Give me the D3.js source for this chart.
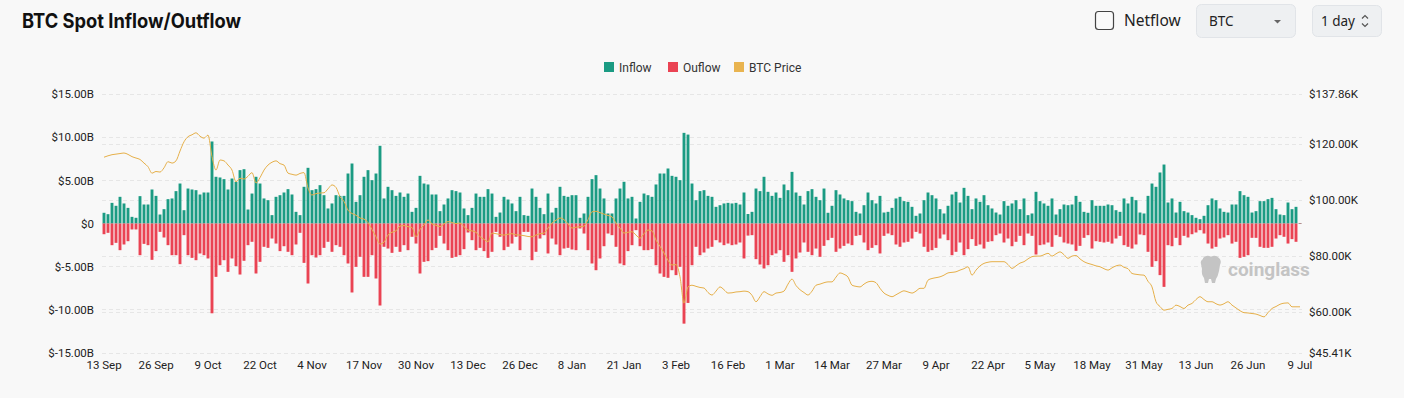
<!DOCTYPE html>
<html><head><meta charset="utf-8">
<script src="https://cdn.jsdelivr.net/npm/d3@7"></script>
<style>
html,body{margin:0;padding:0;background:#f8f8f8;}
svg{display:block;font-family:Roboto,"Noto Sans",sans-serif;}
</style></head><body>
<svg id="chart" width="1404" height="398"></svg>
<script>
// Daily values in billions USD (13 Sep -> 9 Jul)
const inflow = [
1.24,1.08,2.39,2.05,3.09,2.32,1.81,0.77,0.66,3.17,
2.20,2.20,3.94,3.20,1.04,1.66,2.82,2.90,3.75,4.63,
1.54,4.05,3.94,3.86,3.36,3.59,3.59,9.50,5.41,5.33,
5.14,3.94,5.21,4.83,6.18,6.29,1.62,3.47,5.41,4.63,
2.90,2.70,0.97,3.09,3.28,3.59,3.98,3.36,1.35,0.97,
4.25,6.45,3.86,3.98,4.44,3.28,1.74,2.32,3.28,3.20,
3.20,5.79,6.95,2.51,3.28,5.41,6.18,5.02,5.79,9.00,
2.90,4.25,3.86,3.20,3.59,3.09,3.47,1.35,1.81,5.52,
4.63,4.52,3.36,3.36,1.43,2.20,2.90,3.86,3.75,3.59,
1.74,0.97,1.81,3.47,3.09,3.09,3.98,3.47,0.77,1.27,
3.09,2.78,2.32,1.43,3.09,0.97,0.89,4.05,3.09,1.81,
1.08,3.47,1.27,1.81,4.25,3.20,3.09,3.28,3.28,0.66,
1.16,3.09,5.14,5.60,4.05,2.90,1.16,1.16,2.90,4.05,
4.83,2.90,3.09,0.58,2.51,3.47,3.28,3.09,4.52,5.79,
5.79,6.37,5.52,5.41,5.02,10.50,10.30,4.63,2.70,3.75,
3.86,3.20,3.09,1.93,2.12,2.32,2.39,2.32,2.39,2.20,
3.59,1.10,1.35,4.05,3.75,5.41,3.67,3.20,3.59,2.97,
4.52,3.86,5.98,3.59,3.20,2.20,3.75,3.98,3.09,2.70,
4.05,1.24,2.05,3.86,3.36,2.90,2.70,2.59,1.35,1.16,
2.12,3.59,2.70,2.32,3.20,1.27,1.35,1.81,2.90,3.09,
2.59,2.51,1.93,0.89,1.16,2.70,3.59,3.28,2.90,1.66,
1.16,2.05,3.36,3.67,2.43,4.13,3.20,1.66,2.90,2.51,
3.28,2.12,1.74,1.27,1.04,2.59,2.05,2.32,2.70,1.66,
2.90,0.97,1.16,3.67,2.59,2.32,2.05,2.90,1.04,1.66,
2.20,2.12,2.20,3.20,2.51,1.35,1.24,2.70,2.05,2.05,
2.05,2.20,2.12,1.54,1.35,2.90,2.32,3.09,2.70,1.27,
1.16,3.20,4.63,4.25,5.91,6.83,2.43,2.90,1.27,2.51,
1.43,1.27,0.97,0.66,0.50,0.89,2.12,2.90,2.70,1.74,
1.35,1.27,2.20,2.20,3.75,3.28,3.09,1.27,1.43,2.59,
2.59,2.82,2.97,1.66,1.04,0.97,2.43,1.66,1.93,0.05];
const outflow = [
1.24,1.08,2.51,2.24,3.09,2.43,2.05,0.69,0.69,3.67,
2.36,2.51,4.21,3.20,0.97,1.62,2.51,3.67,3.67,4.71,
1.35,3.67,3.98,4.25,3.47,3.67,4.05,10.40,6.18,4.83,
4.25,5.60,4.05,4.94,5.91,4.32,2.51,2.12,5.79,4.44,
2.70,2.82,1.74,2.32,3.20,2.63,3.28,3.67,2.43,1.08,
4.56,6.95,3.67,3.94,3.67,2.82,2.12,3.28,2.51,2.70,
3.67,4.63,7.99,5.02,3.86,6.18,6.18,3.67,6.37,9.50,
2.70,2.90,3.40,2.70,3.28,2.51,3.09,1.54,2.32,5.79,
4.44,4.36,3.09,2.82,1.43,2.32,3.09,3.98,3.86,3.67,
2.97,1.04,1.93,3.09,2.82,3.20,3.98,3.28,0.97,1.54,
3.09,2.70,2.32,1.54,3.09,0.97,0.97,4.25,3.28,1.74,
1.35,3.47,1.74,2.43,3.67,2.90,2.82,3.01,3.09,0.58,
1.16,3.09,4.63,5.41,4.05,2.63,1.16,1.35,2.70,4.63,
4.83,3.20,2.51,0.77,2.63,3.09,3.09,2.97,4.83,5.79,
6.18,6.29,5.41,5.98,5.02,11.60,9.20,4.83,2.70,3.67,
3.36,2.90,2.70,1.93,2.20,2.51,2.32,2.51,2.43,2.20,
4.05,1.40,1.35,4.13,4.75,5.21,4.83,3.67,3.47,3.09,
4.44,3.67,5.60,4.05,3.36,2.20,3.28,3.67,2.90,3.86,
2.59,1.93,1.66,3.28,2.90,2.59,2.32,2.51,1.43,1.35,
2.20,3.09,2.82,2.51,3.47,1.43,1.16,1.35,2.43,2.70,
2.20,2.12,1.74,0.97,1.16,2.70,3.28,3.09,2.82,1.74,
1.27,1.93,3.67,3.28,2.20,3.67,2.97,1.81,2.59,2.43,
2.90,2.12,2.05,1.35,1.16,2.20,1.74,2.63,2.12,1.43,
2.51,1.16,1.43,3.59,2.51,2.43,2.20,2.70,1.35,1.54,
2.20,2.32,2.43,3.17,2.59,1.66,1.35,2.90,2.05,2.12,
2.20,2.12,2.32,1.74,1.43,2.51,2.70,2.90,2.43,1.27,
1.35,3.28,5.02,4.36,5.98,7.34,2.51,2.63,1.66,2.51,
1.43,1.62,1.24,1.04,0.77,1.16,2.32,2.90,2.70,1.74,
1.62,1.35,2.32,2.12,3.98,3.86,3.67,1.66,1.66,2.70,
2.82,2.82,2.70,1.74,1.35,1.54,2.32,1.81,2.12,0.05];
// BTC price in thousands USD
const price = [
115.3,115.8,116.2,116.4,116.6,116.8,116.3,115.5,115.0,114.5,
113.2,111.9,109.6,110.2,110.0,111.5,113.7,113.2,114.0,117.5,
120.8,122.6,123.3,124.0,122.8,122.1,123.2,115.5,110.7,114.3,
114.0,112.5,110.7,106.5,107.8,107.5,108.5,109.8,106.1,108.0,
110.7,112.5,113.5,114.0,113.0,112.5,109.6,109.2,108.9,109.5,
109.8,104.3,101.8,102.3,102.5,102.6,104.0,105.4,104.5,101.2,
99.5,96.4,95.2,94.6,93.6,93.2,92.0,89.5,86.9,84.3,
85.0,87.5,88.5,89.0,90.7,90.9,90.5,90.2,86.9,89.5,
91.1,92.9,91.5,91.0,90.5,91.5,92.3,92.0,91.6,91.8,
90.5,89.3,89.0,88.5,86.9,86.0,85.1,88.2,88.0,87.7,
87.5,87.8,88.0,87.6,87.5,87.3,87.0,86.9,87.5,88.0,
88.2,90.0,91.8,92.8,93.6,93.0,91.5,90.0,90.3,90.5,
90.7,93.0,95.8,96.0,95.5,95.0,94.5,94.0,91.8,90.0,
88.2,88.5,88.7,87.5,86.4,88.0,89.3,89.0,85.7,83.5,
81.1,78.5,76.8,77.0,72.6,63.2,69.0,69.6,69.2,68.8,
68.6,67.0,66.1,67.5,69.0,68.0,66.8,66.9,67.2,67.3,
67.5,67.3,66.0,63.7,65.5,67.3,66.5,66.0,66.8,67.0,
67.5,70.0,71.8,69.5,68.0,67.0,66.1,67.5,69.6,70.0,
70.5,70.8,70.8,72.5,74.0,73.5,72.5,69.6,69.2,69.0,
70.0,70.8,71.0,70.5,68.5,66.8,66.0,65.5,66.2,67.0,
67.6,67.2,66.8,67.5,68.5,68.5,71.4,72.0,72.3,72.6,
73.2,74.0,74.2,74.4,75.0,75.5,76.2,73.2,75.0,76.5,
77.4,77.8,78.0,78.0,78.0,78.0,77.0,75.6,76.5,77.5,
78.0,79.0,79.8,80.0,80.0,80.5,81.0,80.0,80.8,81.5,
80.5,79.2,80.0,80.2,79.0,78.0,77.4,77.0,76.5,76.2,
75.5,75.0,75.8,76.5,76.8,76.0,75.5,73.8,73.5,73.3,
73.2,71.0,69.0,63.7,62.0,60.7,61.0,61.3,62.5,62.0,
61.3,62.5,63.1,64.5,65.5,64.5,63.7,63.7,63.0,62.5,
63.0,63.7,62.5,61.5,60.5,59.8,59.7,59.5,59.3,58.8,
58.3,59.8,61.3,62.0,62.8,63.2,63.3,61.9,61.9,61.9];
const tickLabels = ["13 Sep","26 Sep","9 Oct","22 Oct","4 Nov","17 Nov","30 Nov","13 Dec","26 Dec","8 Jan","21 Jan","3 Feb","16 Feb","1 Mar","14 Mar","27 Mar","9 Apr","22 Apr","5 May","18 May","31 May","13 Jun","26 Jun","9 Jul"];
const leftTicks = [15,10,5,0,-5,-10,-15];
const rightTicks = [137.86,120,100,80,60,45.41];
const legendItems = [["Inflow","#1b9b83"],["Ouflow","#ea4353"],["BTC Price","#e9b450"]];

const startDate = new Date(2025,8,13);
const fmt = d3.timeFormat("%-d %b");
const categories = inflow.map((_,i)=>fmt(d3.timeDay.offset(startDate,i)));

const svg = d3.select("#chart");
const L = 102, R = 1302, T = 94, B = 353;
const x = d3.scaleBand().domain(categories).range([L,R]).paddingInner(0.28).paddingOuter(0.14);
const yL = d3.scaleLinear().domain([-15,15]).range([B,T]);
const yR = d3.scaleLinear().domain([45.41,137.86]).range([B,T]);

// gridlines
const grid = svg.append("g");
leftTicks.forEach(v=>grid.append("line").attr("x1",L).attr("x2",R).attr("y1",yL(v)).attr("y2",yL(v)));
rightTicks.forEach(v=>grid.append("line").attr("x1",L).attr("x2",R).attr("y1",yR(v)).attr("y2",yR(v)));
grid.selectAll("line").attr("stroke","#e6e6e6").attr("stroke-width",1).attr("stroke-dasharray","4,3").attr("shape-rendering","crispEdges");

// axes
const axL = svg.append("g").attr("transform",`translate(${L},0)`)
  .call(d3.axisLeft(yL).tickValues(leftTicks).tickSize(0).tickPadding(8)
  .tickFormat(d=>d===0?"$0":`$${d.toFixed(2)}B`));
const axR = svg.append("g").attr("transform",`translate(${R},0)`)
  .call(d3.axisRight(yR).tickValues(rightTicks).tickSize(0).tickPadding(7)
  .tickFormat(d=>`$${d.toFixed(2)}K`));
const axB = svg.append("g").attr("transform",`translate(0,${B})`)
  .call(d3.axisBottom(x).tickValues(tickLabels).tickSize(0).tickPadding(8));
[axL,axR,axB].forEach(a=>{a.select(".domain").remove();
  a.selectAll("text").attr("fill","#222").attr("font-size",11.5).attr("font-family","Roboto, sans-serif");});

// bars
const bw = x.bandwidth();
svg.append("g").selectAll("rect").data(inflow).join("rect")
  .attr("x",(d,i)=>x(categories[i])).attr("width",bw)
  .attr("y",d=>yL(d)).attr("height",d=>yL(0)-yL(d)).attr("fill","#1b9b83");
svg.append("g").selectAll("rect").data(outflow).join("rect")
  .attr("x",(d,i)=>x(categories[i])).attr("width",bw)
  .attr("y",yL(0)).attr("height",d=>yL(-d)-yL(0)).attr("fill","#ea4353");

// price line
const line = d3.line().x((d,i)=>x(categories[i])+bw/2).y(d=>yR(d)).curve(d3.curveMonotoneX);
svg.append("path").datum(price).attr("d",line).attr("fill","none")
  .attr("stroke","#e6b04a").attr("stroke-width",1);

// watermark
const wm = svg.append("g").attr("fill","#c4c4c4");
wm.append("path").attr("d","M1203,258 q4,-4 8,-1 q4,-3 8,1 q3,3 1,7 l-1,6 q-1,5 -3,8 l-1,4 h-3 l-1,-4 h-2 l-1,4 h-3 l-1,-5 q-3,-4 -2,-9 l-1,-5 q-1,-3 2,-5z");
wm.append("text").attr("x",1228).attr("y",276).attr("font-size",19).attr("font-weight",700)
  .attr("font-family","Roboto, sans-serif").text("coinglass");

// legend
const lg = svg.append("g").attr("font-size",12).attr("fill","#333");
const lx = [604,668,734];
legendItems.forEach((d,i)=>{
  lg.append("rect").attr("x",lx[i]).attr("y",62).attr("width",10).attr("height",10).attr("fill",d[1]);
  lg.append("text").attr("x",lx[i]+15).attr("y",71.5).attr("fill","#333").text(d[0]);
});

// title
svg.append("text").attr("x",22).attr("y",28).attr("font-size",20).attr("font-weight",700)
  .attr("font-family","Inter, sans-serif").attr("fill","#111")
  .attr("textLength",219).attr("lengthAdjust","spacingAndGlyphs").text("BTC Spot Inflow/Outflow");

// controls
const c = svg.append("g");
c.append("rect").attr("x",1095.5).attr("y",11.5).attr("width",18).attr("height",18).attr("rx",3)
  .attr("fill","#fafafa").attr("stroke","#444").attr("stroke-width",1.2);
c.append("text").attr("x",1124).attr("y",26).attr("font-size",15.5).attr("fill","#222")
  .attr("font-family","'Noto Sans', sans-serif").text("Netflow");
c.append("rect").attr("x",1196.5).attr("y",4.5).attr("width",99).attr("height",33).attr("rx",5)
  .attr("fill","#eef0f2").attr("stroke","#e1e4e8");
c.append("text").attr("x",1209).attr("y",26).attr("font-size",13.5).attr("fill","#222")
  .attr("font-family","'Noto Sans', sans-serif").text("BTC");
c.append("path").attr("d","M1274,20 h7 l-3.5,3.5z").attr("fill","#666");
c.append("rect").attr("x",1312.5).attr("y",5.5).attr("width",69).attr("height",31).attr("rx",5)
  .attr("fill","#eef0f2").attr("stroke","#e1e4e8");
c.append("text").attr("x",1321).attr("y",26).attr("font-size",13.5).attr("fill","#222")
  .attr("font-family","'Noto Sans', sans-serif").text("1 day");
c.append("path").attr("d","M1362,18.5 l3,-3 l3,3 M1362,23.5 l3,3 l3,-3").attr("fill","none")
  .attr("stroke","#555").attr("stroke-width",1.2);
</script>
</body></html>
